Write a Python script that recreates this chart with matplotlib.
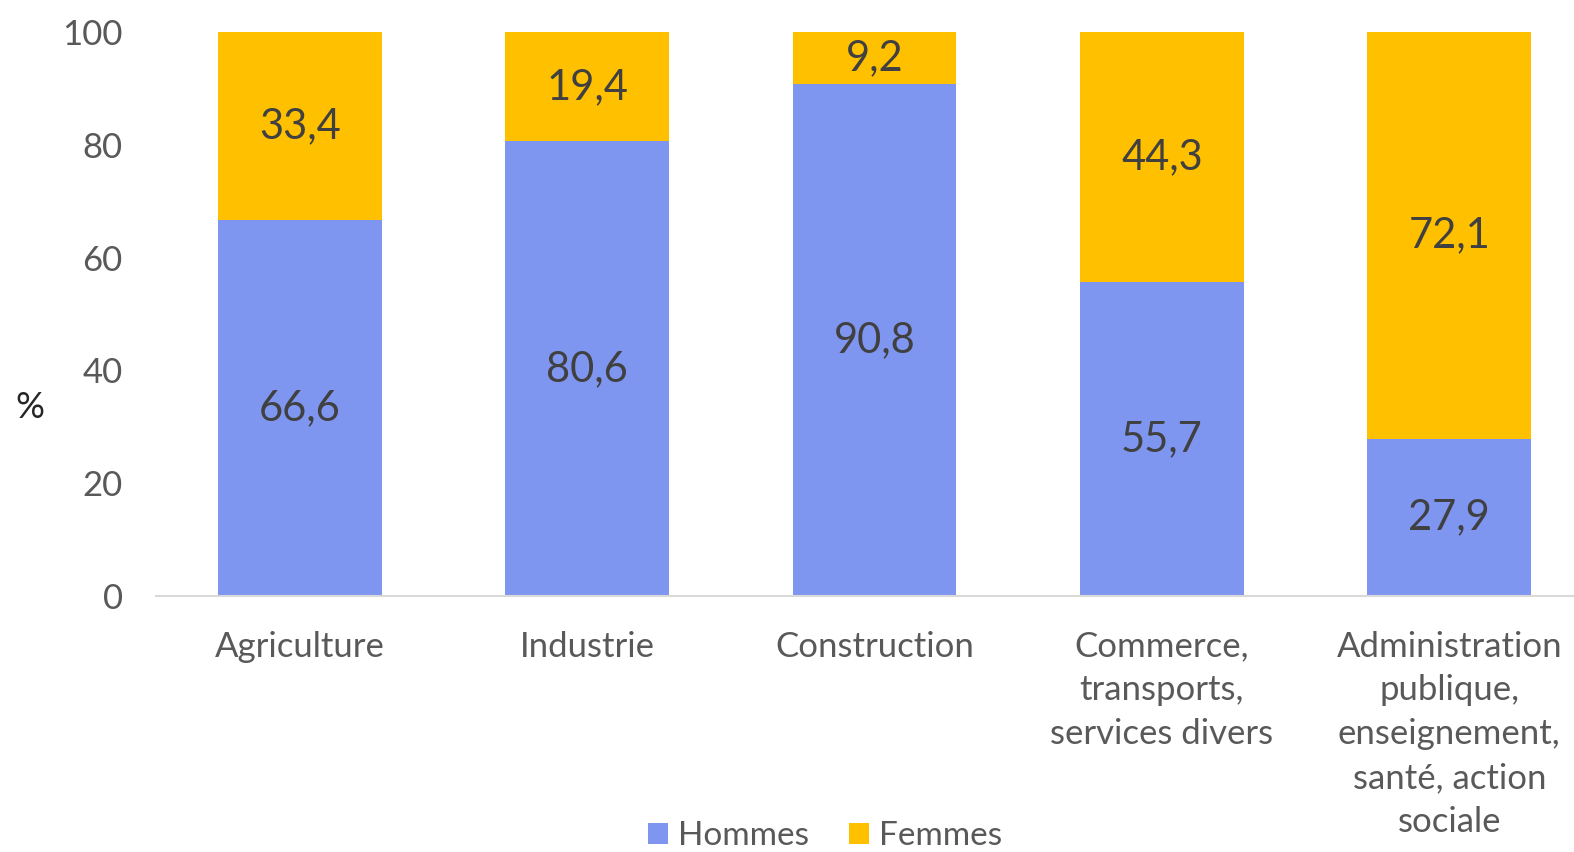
import matplotlib
matplotlib.use("Agg")
import matplotlib.pyplot as plt
import numpy as np

plt.rcParams['font.family'] = ['Lato', 'DejaVu Sans']

categories = ["Agriculture", "Industrie", "Construction",
              "Commerce,\ntransports,\nservices divers",
              "Administration\npublique,\nenseignement,\nsanté, action\nsociale"]
hommes = [66.6, 80.6, 90.8, 55.7, 27.9]
femmes = [33.4, 19.4, 9.2, 44.3, 72.1]

col_h = "#7F96F0"
col_f = "#FFC000"
txt = "#595959"

fig = plt.figure(figsize=(15.74, 8.52), dpi=100)
ax = fig.add_axes([156 / 1574, 256 / 852, 1437 / 1574, 564 / 852])

x = np.arange(len(categories))
w = 0.57
bh = ax.bar(x, hommes, w, color=col_h, label="Hommes")
bf = ax.bar(x, femmes, w, bottom=hommes, color=col_f, label="Femmes")

def fmt(v):
    return f"{v:.1f}".replace(".", ",")

# valeurs dans les barres
for i in range(len(categories)):
    ax.text(x[i], hommes[i] / 2, fmt(hommes[i]), ha="center", va="center",
            fontsize=30, color="#404040")
    ax.text(x[i], hommes[i] + femmes[i] / 2, fmt(femmes[i]), ha="center", va="center",
            fontsize=30, color="#404040")

ax.set_xlim(-0.5, 4.5)
ax.set_ylim(0, 100)
ax.set_yticks([0, 20, 40, 60, 80, 100])
ax.set_xticks(x)
ax.set_xticklabels(categories, fontsize=25, color=txt, linespacing=1.45, va="top")
ax.tick_params(axis="x", length=0, pad=25)
ax.tick_params(axis="y", length=0, pad=24, labelsize=25, labelcolor=txt)
for s in ["top", "right", "left"]:
    ax.spines[s].set_visible(False)
ax.spines["bottom"].set_color("#D9D9D9")
ax.spines["bottom"].set_linewidth(1.5)

fig.text(30 / 1574, 1 - 408 / 852, "%", fontsize=26, color="#262626", ha="center", va="center")

fig.legend(handles=[bh, bf], labels=["Hommes", "Femmes"], loc="center",
           bbox_to_anchor=(825 / 1574, 1 - 836 / 852), ncol=2, frameon=False,
           fontsize=24, labelcolor=txt, handlelength=0.6, handleheight=0.6,
           handletextpad=0.3, columnspacing=1.2)

fig.savefig("out.png", dpi=100)
